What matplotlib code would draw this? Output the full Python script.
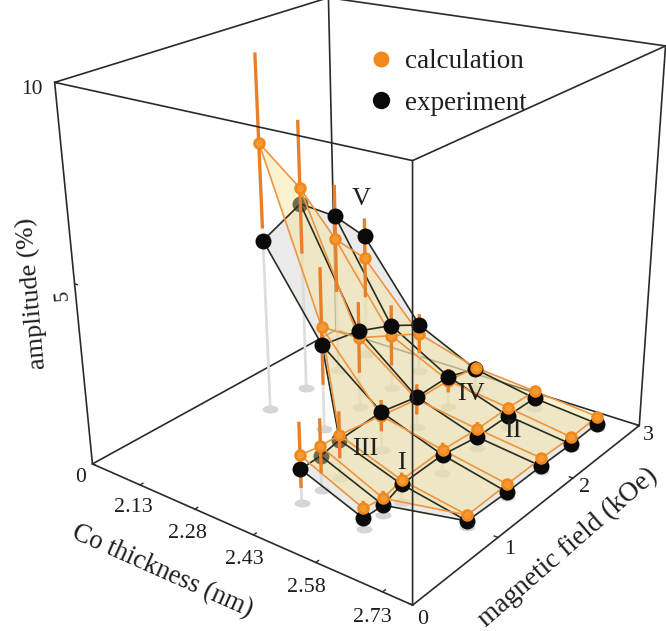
import matplotlib
matplotlib.use('Agg')
import matplotlib.pyplot as plt
import numpy as np
from matplotlib.lines import Line2D
from matplotlib.markers import MarkerStyle
from matplotlib.transforms import Affine2D
from mpl_toolkits.mplot3d.art3d import Poly3DCollection

plt.rcParams['font.family'] = ['Liberation Serif', 'DejaVu Serif']

n = np.nan
thickness = [2.13, 2.28, 2.43, 2.58, 2.73]
fields = [0.53, 0.76, 0.98, 1.49, 1.95, 2.38, 2.77]

# amplitude (%), one row per thickness, nan where nothing was measured
exp_amp = np.array([
    [n, n, n, 4.90, 5.44, 4.65, 3.64],
    [n, n, n, 2.45, 2.27, 1.89, 1.42],
    [0.94, 0.95, 1.06, 1.11, 0.89, 0.90, 0.60],
    [0.28, 0.26, 0.48, 0.51, 0.33, 0.32, 0.29],
    [n, n, 0.17, 0.13, 0.135, 0.11, 0.13],
])
calc_amp = np.array([
    [n, n, n, 7.53, 5.88, 3.98, 2.98],
    [n, n, n, 2.96, 2.07, 1.59, 1.15],
    [1.32, 1.22, 1.20, 1.00, 0.82, 0.78, 0.65],
    [0.55, 0.45, 0.60, 0.65, 0.56, 0.56, 0.50],
    [n, n, 0.33, 0.35, 0.36, 0.31, 0.335],
])
calc_err = np.array([
    [n, n, n, 2.30, 1.85, 1.57, 1.20],
    [n, n, n, 1.65, 1.03, 0.90, 0.60],
    [0.90, 0.76, 0.65, 0.45, 0.44, 0.35, 0.20],
    [0.20, 0.20, 0.20, 0.20, 0.20, 0.15, 0.15],
    [n, n, 0.08, 0.08, 0.08, 0.08, 0.08],
])
# the two extra triangles at the edge of the measured area (row, col)
extra_tris = [[(1, 3), (2, 2), (2, 3)], [(3, 1), (4, 2), (3, 2)]]
# measured points that show through the calculated surface (row, col)
seen_through = [(0, 4), (2, 1), (2, 2)]

x_ticks = [2.13, 2.28, 2.43, 2.58, 2.73]
y_ticks = [0, 1, 2, 3]
z_ticks = [0, 5, 10]
x_box = (1.992, 2.794)
y_box = (0, 3)
z_box = (0, 10)
numerals = ['V', 'IV', 'III', 'II', 'I']

# where the texts sit on the page, in pixels
x_tick_px = [(133, 508), (187, 533), (244, 559), (306, 587), (372, 617)]
y_tick_px = [(423, 620), (510, 550), (585, 488), (648, 435)]
z_tick_px = [(81, 478), (63, 295), (32, 90)]
numeral_px = [(361, 199), (471, 394), (365, 449), (513, 431), (401, 463)]

W, H = 666, 631
fig = plt.figure(figsize=(W / 100, H / 100), dpi=100)
# the camera looks at a point off the box centre, so the axes run past the figure
side = 1381
ax = fig.add_axes([-458 / W, -385 / H, side / W, side / H], projection='3d', computed_zorder=False)
ax.set_box_aspect((1, 1, 1))
ax.set_proj_type('persp', focal_length=0.20204)
ax.view_init(elev=23.95, azim=-47.6, roll=2.73)
ax.set_axis_off()


def pts(vals):
    r, c = np.where(~np.isnan(vals))
    return np.array(thickness)[r], np.array(fields)[c], vals[r, c]


def edges(vals):
    out = []
    nr, nc = vals.shape
    P = lambda i, j: (thickness[i], fields[j], vals[i, j])
    for i in range(nr):
        for j in range(nc):
            if np.isnan(vals[i, j]):
                continue
            if j + 1 < nc and not np.isnan(vals[i, j + 1]):
                out.append([P(i, j), P(i, j + 1)])
            if i + 1 < nr and not np.isnan(vals[i + 1, j]):
                out.append([P(i, j), P(i + 1, j)])
    for t in extra_tris:
        out.append([P(*t[0]), P(*t[1])])
    return out


def polys(vals):
    out = []
    nr, nc = vals.shape
    P = lambda i, j: (thickness[i], fields[j], vals[i, j])
    for i in range(nr - 1):
        for j in range(nc - 1):
            q = [(i, j), (i, j + 1), (i + 1, j + 1), (i + 1, j)]
            if not any(np.isnan(vals[a, b]) for a, b in q):
                out.append([P(a, b) for a, b in q])
    for t in extra_tris:
        out.append([P(a, b) for a, b in t])
    return out


def draw_lines(segs, color, lw, z, alpha=1.0):
    for s in segs:
        s = np.array(s)
        ax.plot(s[:, 0], s[:, 1], s[:, 2], color=color, lw=lw, zorder=z, alpha=alpha, solid_capstyle='round')


def balls(xs, ys, zs, z, ms=9):
    ax.plot(xs, ys, zs, ls='none', marker='o', ms=ms, color='#f0891c', mew=0, zorder=z)
    ax.plot(xs, ys, zs, ls='none', marker='o', ms=ms * 0.55, color='#f79a35', mew=0, zorder=z + 0.1)


# box
x0, x1 = x_box
y0, y1 = y_box
z0, z1 = z_box
back = [
    [(x0, y0, z0), (x0, y1, z0)], [(x0, y1, z0), (x1, y1, z0)], [(x0, y1, z0), (x0, y1, z1)],
    [(x0, y0, z1), (x0, y1, z1)], [(x0, y1, z1), (x1, y1, z1)],
]
front = [
    [(x0, y0, z0), (x1, y0, z0)], [(x1, y0, z0), (x1, y1, z0)],
    [(x0, y0, z0), (x0, y0, z1)], [(x1, y1, z0), (x1, y1, z1)], [(x1, y0, z0), (x1, y0, z1)],
    [(x0, y0, z1), (x1, y0, z1)], [(x1, y0, z1), (x1, y1, z1)],
]
draw_lines(back, '#2a2a2a', 1.2, 1)

# drop lines and their shadows on the floor
ex, ey, ez = pts(exp_amp)
for a, b, c in zip(ex, ey, ez):
    ax.plot([a, a], [b, b], [0, c], color='#dedede', lw=2.0, zorder=2)
disc = MarkerStyle('o', transform=Affine2D().scale(1, 0.5))
ax.plot(ex, ey, np.zeros_like(ex), ls='none', marker=disc, ms=11.5, color='#d6d6d6', mew=0, zorder=2.5)

# measured surface
ax.add_collection3d(Poly3DCollection(polys(exp_amp), facecolor='#d9d9d9', edgecolor='none', alpha=0.55, zorder=3))
r_idx, c_idx = np.where(~np.isnan(exp_amp))
under = np.array([(i, j) in seen_through for i, j in zip(r_idx, c_idx)])
ax.plot(ex[under], ey[under], ez[under], ls='none', marker='o', ms=11.5, color='#0a0a0a', mew=0, zorder=5)

# calculated surface on top of it
ax.add_collection3d(Poly3DCollection(polys(calc_amp), facecolor='#f3e396', edgecolor='none', alpha=0.45, zorder=6))
draw_lines(edges(exp_amp), '#2b2b20', 1.2, 6.5)
draw_lines(edges(calc_amp), '#ee9440', 1.2, 7)
cx, cy, cz = pts(calc_amp)
_, _, ce = pts(calc_err)
for a, b, c, d in zip(cx, cy, cz, ce):
    ax.plot([a, a], [b, b], [c - d, c + d], color='#e8802a', lw=2.4, zorder=8, solid_capstyle='butt')
above = ez <= cz
balls(cx[~above], cy[~above], cz[~above], 8.5)
ax.plot(ex[~under], ey[~under], ez[~under], ls='none', marker='o', ms=11.5, color='#0a0a0a', mew=0, zorder=9)
balls(cx[above], cy[above], cz[above], 10)

draw_lines(front, '#2a2a2a', 1.2, 20)

# tiny tick marks on the three axes
for v in x_ticks:
    ax.plot([v, v], [y0, y0 + 0.03], [z0, z0], color='#2a2a2a', lw=1.0, zorder=20)
for v in y_ticks:
    ax.plot([x1, x1 - 0.008], [v, v], [z0, z0], color='#2a2a2a', lw=1.0, zorder=20)
for v in z_ticks:
    ax.plot([x0, x0 + 0.008], [y0, y0], [v, v], color='#2a2a2a', lw=1.0, zorder=20)


# all the text is placed on the page
def page_text(px, py, s, **kw):
    kw.setdefault('color', '#1e1e1e')
    fig.text(px / W, 1 - py / H, s, ha='center', va='center', rotation_mode='anchor', **kw)


for v, (px, py) in zip(x_ticks, x_tick_px):
    page_text(px, py, f'{v:.2f}', fontsize=15.8)
for v, (px, py) in zip(y_ticks, y_tick_px):
    page_text(px, py, str(v), fontsize=15.8)
for v, (px, py) in zip(z_ticks, z_tick_px):
    page_text(px, py, str(v), fontsize=15.5, rotation=95 if v == 5 else 0)
page_text(33, 293, 'amplitude (%)', fontsize=19, rotation=95)
page_text(162, 571, 'Co thickness (nm)', fontsize=19.2, rotation=-24)
page_text(568, 548, 'magnetic field (kOe)', fontsize=19.7, rotation=41)
for s, (px, py) in zip(numerals, numeral_px):
    page_text(px, py, s, fontsize=19, zorder=30)

handles = [
    Line2D([], [], ls='none', marker='o', ms=11.5, color='#f0891c', mew=0, label='calculation'),
    Line2D([], [], ls='none', marker='o', ms=12.5, color='#0a0a0a', mew=0, label='experiment'),
]
leg = ax.legend(handles=handles, loc='upper left', bbox_to_anchor=(367 / W, 1 - 49 / H),
                bbox_transform=fig.transFigure, frameon=False, fontsize=19.5, labelspacing=0.62,
                handlelength=1.0, handletextpad=0.4, borderpad=0, borderaxespad=0)
for t in leg.get_texts():
    t.set_color('#1e1e1e')

ax.set_xlim(2.2454 - 0.802, 2.2454 + 0.802)
ax.set_ylim(0.846 - 3, 0.846 + 3)
ax.set_zlim(4.19 - 10, 4.19 + 10)

fig.savefig('out.png', dpi=100)
